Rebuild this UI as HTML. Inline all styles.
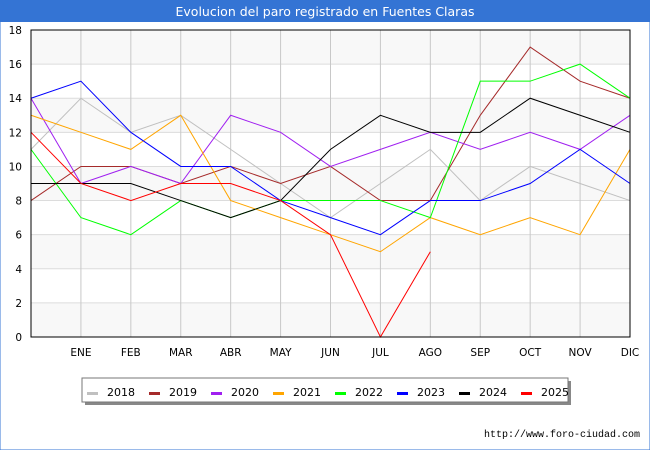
<!DOCTYPE html>
<html><head><meta charset="utf-8"><style>
body{margin:0;width:650px;height:450px;background:#fff;font-family:"DejaVu Sans","Liberation Sans",sans-serif;overflow:hidden}
</style></head><body>
<svg width="650" height="450" xmlns="http://www.w3.org/2000/svg">
<rect x="0" y="0" width="650" height="450" fill="#fff" stroke="#3474d4"/>
<rect x="0" y="0" width="650" height="22" fill="#3474d4"/>
<text x="325" y="16" text-anchor="middle" font-size="12.5" fill="#fff">Evolucion del paro registrado en Fuentes Claras</text>
<g id="grid"></g>
<g id="series"></g>
<rect x="31" y="30" width="599" height="307" fill="none" stroke="#000"/>
<g id="legend"></g>
<text x="640" y="437" text-anchor="end" font-size="10" fill="#000" font-family="Liberation Mono,monospace">http://www.foro-ciudad.com</text>
</svg>
<script>
const months=["","ENE","FEB","MAR","ABR","MAY","JUN","JUL","AGO","SEP","OCT","NOV","DIC"];
const yTicks=[0,2,4,6,8,10,12,14,16,18];
const years=["2018","2019","2020","2021","2022","2023","2024","2025"];
const colors=["#c0c0c0","#a52a2a","#a020f0","#ffa500","#00ff00","#0000ff","#000000","#ff0000"];
const s2018=[11,14,12,13,11,9,7,9,11,8,10,9,8];
const s2019=[8,10,10,9,10,9,10,8,8,13,17,15,14];
const s2020=[14,9,10,9,13,12,10,11,12,11,12,11,13];
const s2021=[13,12,11,13,8,7,6,5,7,6,7,6,11];
const s2022=[11,7,6,8,7,8,8,8,7,15,15,16,14];
const s2023=[14,15,12,10,10,8,7,6,8,8,9,11,9];
const s2024=[9,9,9,8,7,8,11,13,12,12,14,13,12];
const s2025=[12,9,8,9,9,8,6,0,5];
const allSeries=[s2018,s2019,s2020,s2021,s2022,s2023,s2024,s2025];
const NS="http://www.w3.org/2000/svg";
const X0=31,X1=630,Y0=337,Y1=30,YMAX=18;
const xs=i=>X0+i*(X1-X0)/(months.length-1);
const ys=v=>Y0-v*(Y0-Y1)/YMAX;
function mk(t,a,p){const e=document.createElementNS(NS,t);for(const k in a)e.setAttribute(k,a[k]);p.appendChild(e);return e;}
const grid=document.getElementById('grid');
for(let i=0;i<yTicks.length-1;i++){
  if(i%2===0){const r=mk('rect',{x:X0,y:ys(yTicks[i+1]),width:X1-X0,height:ys(yTicks[i])-ys(yTicks[i+1]),fill:'#f8f8f8'},grid);
  
  }
}
yTicks.forEach(v=>{
  const l=mk('line',{x1:X0,x2:X1,y1:ys(v),y2:ys(v),stroke:'#dcdcdc'},grid);
  
  
  const t=mk('text',{x:22,y:ys(v)+4,'text-anchor':'end','font-size':'10.5',fill:'#000'},grid);
  t.textContent=v;
  
  
});
months.forEach((m,i)=>{
  const l=mk('line',{x1:xs(i),x2:xs(i),y1:Y1,y2:Y0,stroke:'#c8c8c8'},grid);
  
  
  if(m){const t=mk('text',{x:xs(i),y:356,'text-anchor':'middle','font-size':'10.5',fill:'#000'},grid);
  t.textContent=m;
  
  }
});
const sg=document.getElementById('series');
allSeries.forEach((s,k)=>{
  const p=mk('polyline',{points:s.map((v,i)=>xs(i)+','+ys(v)).join(' '),fill:'none',stroke:colors[k],'stroke-width':'1'},sg);
  
  
});
const lg=document.getElementById('legend');
const sh=mk('rect',{x:85,y:381,width:486,height:24,fill:'#888'},lg);


const bx=mk('rect',{x:82,y:378,width:486,height:24,fill:'#fff',stroke:'#777'},lg);


years.forEach((y,k)=>{
  const x=87+k*62;
  const r=mk('rect',{x:x,y:392,width:11,height:3,fill:colors[k]},lg);
  
  
  const t=mk('text',{x:x+20,y:396,'font-size':'11',fill:'#000'},lg);
  t.textContent=y;
  
  
});
</script>
</body></html>
